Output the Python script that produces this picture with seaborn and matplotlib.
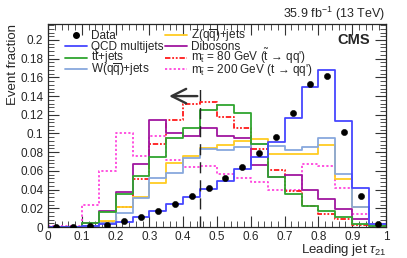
import numpy as np
import matplotlib
matplotlib.use("Agg")
import matplotlib.pyplot as plt
from matplotlib.lines import Line2D
from matplotlib.ticker import MultipleLocator, AutoMinorLocator
import seaborn as sns

# ---- data (20 bins of width 0.05 in leading jet tau21) ----
bin_edges = [round(0.05 * i, 2) for i in range(21)]
bin_centers = [round(0.025 + 0.05 * i, 3) for i in range(20)]

data_vals = [0.0005, 0.0005, 0.001, 0.002, 0.006, 0.0107, 0.0175, 0.025, 0.0335, 0.042,
             0.0527, 0.0645, 0.0788, 0.0966, 0.1216, 0.1526, 0.1615, 0.1013, 0.0332, 0.003]
qcd_vals = [0.0005, 0.0005, 0.0014, 0.003, 0.0057, 0.0103, 0.017, 0.0246, 0.0322, 0.0403,
            0.0495, 0.0617, 0.0752, 0.0912, 0.1162, 0.150, 0.168, 0.1137, 0.0414, 0.003]
tt_vals = [0.0, 0.0005, 0.0046, 0.0164, 0.035, 0.055, 0.075, 0.0948, 0.1055, 0.125,
           0.131, 0.122, 0.0885, 0.054, 0.0355, 0.0228, 0.017, 0.0105, 0.0035, 0.001]
w_vals = [0.0, 0.0003, 0.001, 0.0046, 0.0153, 0.0307, 0.052, 0.0574, 0.0734, 0.083,
          0.0823, 0.0859, 0.089, 0.0866, 0.0823, 0.0859, 0.0948, 0.0563, 0.021, 0.002]
z_vals = [0.0, 0.0, 0.001, 0.0064, 0.0217, 0.0324, 0.0467, 0.0688, 0.076, 0.085,
          0.0877, 0.092, 0.0938, 0.078, 0.078, 0.078, 0.0877, 0.051, 0.0217, 0.002]
vv_vals = [0.0, 0.0005, 0.004, 0.0175, 0.0372, 0.0674, 0.1144, 0.100, 0.0973, 0.1055,
           0.0973, 0.0948, 0.0668, 0.053, 0.056, 0.0396, 0.030, 0.0195, 0.0082, 0.002]
sig80_vals = [0.0, 0.0, 0.001, 0.005, 0.021, 0.0513, 0.0884, 0.1144, 0.1315, 0.134,
              0.118, 0.106, 0.083, 0.061, 0.0388, 0.0225, 0.0139, 0.009, 0.0025, 0.0003]
sig200_vals = [0.001, 0.001, 0.0235, 0.060, 0.101, 0.076, 0.0973, 0.0717, 0.0638, 0.0652,
               0.0567, 0.052, 0.0478, 0.0396, 0.0396, 0.067, 0.0655, 0.042, 0.0139, 0.0035]

labels = {
    "data": "Data",
    "qcd": "QCD multijets",
    "tt": r"t$\bar{\rm t}$+jets",
    "w": r"W(q$\overline{\rm q}$)+jets",
    "z": r"Z(q$\overline{\rm q}$)+jets",
    "vv": "Dibosons",
    "s80": r"m$_{\tilde{\rm t}}$ = 80 GeV ($\tilde{\rm t}$ → qq')",
    "s200": r"m$_{\tilde{\rm t}}$ = 200 GeV (t → qq')",
}
cut_value = 0.45

# ---- style ----
sns.set_style("ticks")
plt.rcParams["font.family"] = ["Liberation Sans", "DejaVu Sans"]
plt.rcParams["mathtext.fontset"] = "custom"
plt.rcParams["mathtext.rm"] = "Liberation Sans"
plt.rcParams["mathtext.it"] = "Liberation Sans:italic"
plt.rcParams["mathtext.bf"] = "Liberation Sans:bold"

W_PX, H_PX = 407, 258
AX_L, AX_R, AX_T, AX_B = 48, 386, 24, 227
fig = plt.figure(figsize=(W_PX / 100, H_PX / 100), dpi=100)
ax = fig.add_axes([AX_L / W_PX, (H_PX - AX_B) / H_PX,
                   (AX_R - AX_L) / W_PX, (AX_B - AX_T) / H_PX])

lw = 1.3
series = [
    (sig200_vals, "#ff44dd", (0, (1.2, 1.2)), "s200"),
    (sig80_vals, "#ff1a1a", (0, (3, 1, 1, 1, 1, 1)), "s80"),
    (vv_vals, "#a0169f", "-", "vv"),
    (z_vals, "#ffcc22", "-", "z"),
    (w_vals, "#88a8dd", "-", "w"),
    (tt_vals, "#2fa52f", "-", "tt"),
    (qcd_vals, "#4646ff", "-", "qcd"),
]
styles = {}
for vals, col, ls, key in series:
    sns.histplot(x=bin_centers, weights=vals, bins=bin_edges, element="step",
                 fill=False, color=col, linewidth=lw, linestyle=ls, ax=ax)
    styles[key] = (col, ls)

sns.scatterplot(x=bin_centers, y=data_vals, color="black", s=20, edgecolor="black",
                zorder=10, ax=ax, legend=False)

ymax = 0.2171
ax.set_xlim(0, 1)
ax.set_ylim(0, ymax)

# cut line and arrow
ax.axvline(cut_value, ymin=0, ymax=0.151 / ymax, color="#222222", lw=1.0,
           ls=(0, (8, 5)))
ax.annotate("", xy=(cut_value - 0.1, 0.14), xytext=(cut_value, 0.14),
            arrowprops=dict(arrowstyle="->", lw=1.7, color="#333333",
                            mutation_scale=26))

# ticks
ax.xaxis.set_major_locator(MultipleLocator(0.1))
ax.xaxis.set_minor_locator(AutoMinorLocator(5))
ax.yaxis.set_major_locator(MultipleLocator(0.02))
ax.yaxis.set_minor_locator(AutoMinorLocator(5))
ax.tick_params(which="both", direction="in", top=True, right=True, labelsize=8.5,
               color="#333333")
ax.tick_params(which="major", length=8, width=0.8)
ax.tick_params(which="minor", length=4, width=0.6)
ax.tick_params(axis="x", pad=3)
ax.set_xticklabels([("%g" % v) for v in ax.get_xticks()])
ax.set_yticklabels([("%g" % v) for v in ax.get_yticks()])
for s in ax.spines.values():
    s.set_linewidth(0.9)

ax.set_xlabel(r"Leading jet $\tau_{21}$", loc="right", fontsize=9.5, labelpad=-1)
ax.set_ylabel("Event fraction", loc="top", fontsize=9.5, labelpad=1)

fig.text(385 / W_PX, 1 - 14 / H_PX, r"35.9 fb$^{-1}$ (13 TeV)", ha="right",
         va="center", fontsize=9)
ax.text(0.953, 0.92, "CMS", transform=ax.transAxes, ha="right", va="center",
        fontsize=10.5, fontweight="bold")

# ---- legend: two columns with even row spacing ----
def fx(px):
    return (px - AX_L) / (AX_R - AX_L)

def fy(py):
    return (AX_B - py) / (AX_B - AX_T)

columns = [(["data", "qcd", "tt", "w"], 65, 87, 91),
           (["z", "vv", "s80", "s200"], 165, 187, 191)]
row_y = [35, 46.3, 57.6, 69]
for keys, x0, x1, xt in columns:
    for key, py in zip(keys, row_y):
        if key == "data":
            ax.plot([fx((x0 + x1) / 2)], [fy(py)], transform=ax.transAxes,
                    marker="o", markersize=4, color="black", ls="none",
                    clip_on=False)
        else:
            col, ls = styles[key]
            ax.plot([fx(x0), fx(x1)], [fy(py), fy(py)], transform=ax.transAxes,
                    color=col, lw=lw, ls=ls, clip_on=False)
        ax.text(fx(xt), fy(py + 3.6), labels[key], transform=ax.transAxes,
                ha="left", va="baseline", fontsize=8.5)

fig.savefig("out.png", dpi=100)
